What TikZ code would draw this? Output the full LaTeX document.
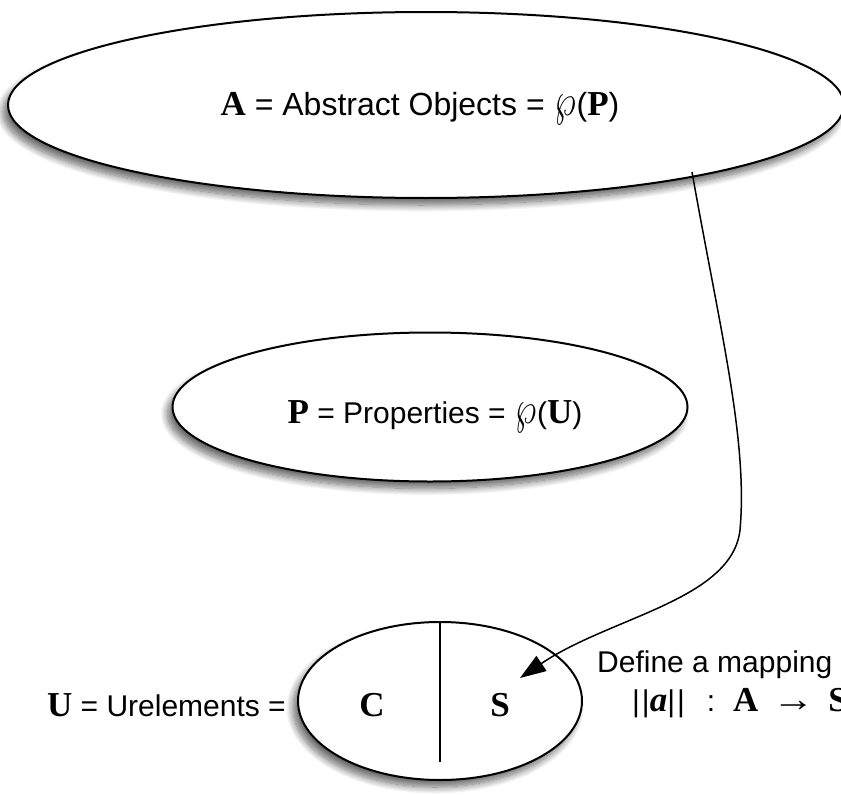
\documentclass[tikz,border=0pt]{standalone}
\usepackage{fontspec}
\setmainfont{Liberation Sans}
\newfontfamily\tms{Liberation Serif}
\usetikzlibrary{shapes.geometric,shadows.blur,arrows.meta}
\newcommand{\bsym}[1]{{\fontsize{35}{40}\selectfont\tms\bfseries #1}}
\newcommand{\pw}{{\fontsize{10}{12}\selectfont\kern1pt\scalebox{3.3}[4.6]{$\wp$}\kern1pt}}
\begin{document}
\begin{tikzpicture}[x=1pt,y=-1pt,
  blob/.style={ellipse,draw=black,line width=2pt,fill=white,inner sep=0pt,
    blur shadow={shadow xshift=-5pt,shadow yshift=-7pt,shadow blur steps=12,shadow blur radius=7pt,shadow opacity=60}},
  lbl/.style={font=\fontsize{30}{36}\selectfont,inner sep=0pt},
  conn/.style={line width=1.5pt,-{Triangle[length=26pt,width=18pt]}}]
\useasboundingbox (0,0) rectangle (841,795);
\node[blob,minimum width=836pt,minimum height=186pt] (A) at (426,105) {};
\node[lbl,font=\fontsize{32}{38}\selectfont,anchor=base] (Atext) at (420,115) {\bsym{A} = Abstract Objects = \pw(\bsym{P})};
\node[blob,minimum width=515pt,minimum height=149pt] (P) at (430,407) {};
\node[lbl,anchor=base] (Ptext) at (435,423) {\bsym{P} = Properties = \pw(\bsym{U})};
\node[blob,minimum width=284pt,minimum height=158pt] (U) at (440,701) {};
\coordinate (Ubot) at (440,762);
\draw[line width=1.6pt] (U.north) -- (Ubot);
\node[lbl,anchor=base] (C) at (372,716) {\bsym{C}};
\node[lbl,anchor=base] (S) at (500,716) {\bsym{S}};
\node[lbl,anchor=base east] (Utext) at (286,716) {\bsym{U} = Urelements =};
\node[lbl,anchor=base west] (def) at (597,672) {Define a mapping};
\node[lbl,anchor=base west] (map) at (632,711) {|\kern2pt|\bsym{\itshape a}|\kern2pt|\hspace{22pt}:\hspace{18pt}\bsym{A}\hspace{14pt}\scalebox{1.4}[1.2]{→}\hspace{14pt}\bsym{S}};
\coordinate (start) at (692,172);
\coordinate (tip) at (520,678);
\draw[conn] (start) .. controls (720,330) and (748,440) .. (740,530)
  .. controls (732,600) and (610,617) .. (tip);
\end{tikzpicture}
\end{document}
